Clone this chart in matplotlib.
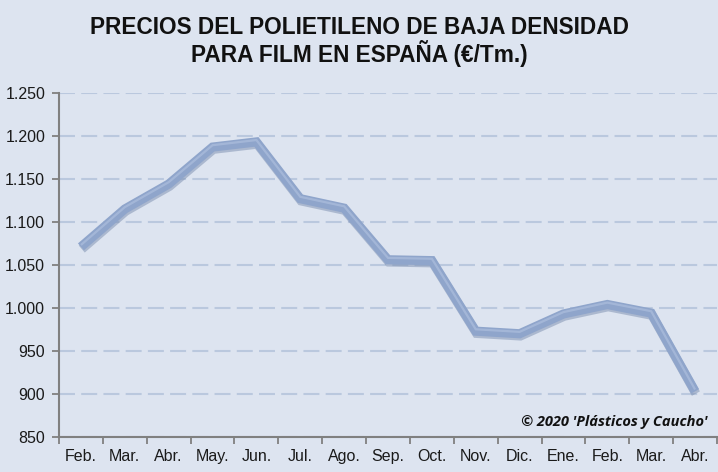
import numpy as np
import matplotlib
matplotlib.use("Agg")
import matplotlib.pyplot as plt
import matplotlib.patheffects as pe

plt.rcParams['font.family'] = ['Liberation Sans', 'DejaVu Sans']
plt.rcParams['lines.scale_dashes'] = False

# datos
meses = ['Feb.', 'Mar.', 'Abr.', 'May.', 'Jun.', 'Jul.', 'Ago.', 'Sep.',
         'Oct.', 'Nov.', 'Dic.', 'Ene.', 'Feb.', 'Mar.', 'Abr.']
precios = [1071, 1115, 1144, 1187, 1193, 1127, 1116, 1056,
           1055, 973, 970, 993, 1004, 994, 903]
yticks = [850, 900, 950, 1000, 1050, 1100, 1150, 1200, 1250]
ylabels = ['850', '900', '950', '1.000', '1.050', '1.100', '1.150', '1.200', '1.250']

bg = '#dde4f0'
fig = plt.figure(figsize=(7.18, 4.72), dpi=100, facecolor=bg)
ax = fig.add_axes([0.0822, 0.0742, 0.9164, 0.729])
ax.set_facecolor(bg)

x = np.arange(len(precios))
line_fx = [pe.SimpleLineShadow(offset=(0.6, -1.6), shadow_color='#6f84a8', alpha=0.45),
           pe.Normal()]
ax.plot(x, precios, color='#8fa5cb', lw=6.6, solid_joinstyle='miter',
        solid_capstyle='butt', path_effects=line_fx, zorder=3)
ax.plot(x, np.array(precios) + 2.2, color='#a9bbdb', lw=1.6, solid_joinstyle='miter',
        solid_capstyle='butt', alpha=0.8, zorder=4)

ax.set_xlim(-0.5, len(precios) - 0.5)
ax.set_ylim(850, 1250)
ax.set_yticks(yticks)
ax.set_yticklabels(ylabels, fontsize=11.5, color='#1a1a1a')
ax.set_xticks(np.arange(-0.5, len(precios), 1.0))
ax.set_xticklabels([])
ax.set_xticks(x, minor=True)
ax.set_xticklabels(meses, minor=True, fontsize=11.5, color='#1a1a1a')
ax.tick_params(axis='x', which='major', length=5, width=1.3, color='#808080', direction='out')
ax.tick_params(axis='x', which='minor', length=0, pad=9)
ax.tick_params(axis='y', length=5, width=1.3, color='#808080', pad=5)

ax.grid(axis='y', color='#bac8de', lw=1.5, linestyle=(0, (11.5, 4.5)), zorder=1)
for s in ['top', 'right']:
    ax.spines[s].set_visible(False)
for s in ['left', 'bottom']:
    ax.spines[s].set_color('#808080')
    ax.spines[s].set_linewidth(1.5)

fig.text(0.5, 0.912, 'PRECIOS DEL POLIETILENO DE BAJA DENSIDAD\nPARA FILM EN ESPAÑA (€/Tm.)',
         ha='center', va='center', fontsize=16.3, fontweight='bold', linespacing=1.02,
         color='#111111')
ax.text(0.985, 0.022, "© 2020 'Plásticos y Caucho'", transform=ax.transAxes,
        ha='right', va='bottom', fontsize=10.5, fontweight='bold', style='italic',
        family=['Open Sans', 'DejaVu Sans'], color='#111111')

fig.savefig('out.png', dpi=100, facecolor=bg)
